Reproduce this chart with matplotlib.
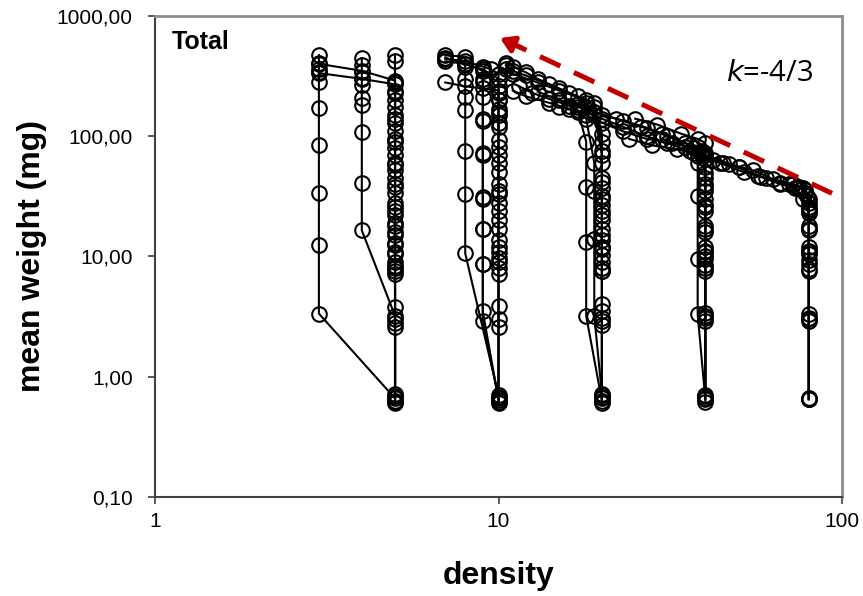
import matplotlib.pyplot as plt
from matplotlib.ticker import NullLocator

plt.rcParams['font.family'] = ['Liberation Sans', 'DejaVu Sans']

# runs started at density 80
r80a_d = [80, 80, 80, 80, 80, 80, 80, 78, 74, 66, 57, 50, 45]
r80a_w = [0.65, 2.9, 7.8, 11.2, 17, 25, 30, 36, 38, 41, 47, 55, 60]
r80b_d = [80, 80, 80, 80, 80, 80, 79, 77, 72, 63, 55, 47, 40, 35, 30]
r80b_w = [0.66, 3.1, 8.6, 11, 16.5, 26, 32, 37, 40, 44, 52, 59, 70, 82, 95]
r80c_d = [80, 80, 80, 80, 80, 80, 80, 78, 75, 70, 60, 52, 44, 38]
r80c_w = [0.65, 3.3, 9.3, 12, 18, 24, 28, 34, 38, 40, 45, 50, 60, 68]
r80d_d = [80, 80, 80, 80, 80, 77, 73, 66, 58, 50, 42, 36, 31, 27, 23, 20]
r80d_w = [0.65, 3.0, 7.6, 10.5, 23, 30, 37, 40, 46, 55, 64, 75, 88, 100, 120, 140]

# runs started at density 40
r40a_d = [40, 40, 40, 40, 40, 40, 40, 40, 39, 35, 30, 26, 22, 19, 17]
r40a_w = [0.62, 3.1, 7.6, 11, 17, 27, 38, 55, 75, 88, 105, 120, 140, 160, 185]
r40b_d = [40, 40, 40, 40, 40, 40, 40, 39, 36, 31, 27, 23, 20, 17, 15, 13]
r40b_w = [0.66, 3.4, 9.6, 11.2, 26, 35, 49, 70, 85, 100, 118, 135, 150, 175, 200, 235]
r40c_d = [40, 38, 38, 38, 38, 37, 33, 28, 24]
r40c_w = [0.65, 3.3, 9.6, 32, 60, 72, 78, 84, 95]
r40d_d = [40, 40, 40, 40, 40, 40, 40, 40, 40, 38, 34, 29, 25]
r40d_w = [0.69, 2.9, 8.5, 12, 18, 30, 45, 65, 88, 95, 105, 125, 140]
r40e_d = [40, 40, 40, 40, 40, 40, 40, 40, 37, 32, 27, 23, 20, 18]
r40e_w = [0.71, 3.2, 8, 10, 16, 24, 40, 72, 80, 88, 95, 110, 130, 150]

# runs started at density 20
r20a_d = [20, 20, 20, 20, 20, 20, 20, 20, 20, 19, 17, 15, 13, 12, 11, 10.5]
r20a_w = [0.60, 3.1, 7.6, 10.2, 13.6, 20, 32, 60, 105, 190, 215, 250, 300, 340, 380, 410]
r20b_d = [20, 20, 20, 20, 20, 20, 20, 20, 19, 16, 14, 12, 11]
r20b_w = [0.66, 2.7, 8, 12, 17, 26.6, 37, 75, 150, 170, 190, 215, 240]
r20c_d = [20, 18, 18, 18, 18, 17, 16, 14, 12.5, 11.5]
r20c_w = [0.63, 3.2, 13.1, 37.6, 90, 165, 180, 205, 230, 260]
r20d_d = [20, 20, 20, 20, 20, 20, 20, 20, 20, 19, 18, 16, 14, 12, 11, 10.5]
r20d_w = [0.70, 2.9, 9, 11.5, 15, 22, 30, 45, 70, 160, 190, 230, 270, 320, 350, 390]
r20e_d = [20, 20, 20, 20, 20, 20, 20, 20, 19, 18, 15, 13, 11, 10.5]
r20e_w = [0.68, 3.5, 4.06, 7.6, 12, 24, 42, 90, 175, 200, 240, 280, 330, 360]
r20f_d = [20, 19, 19, 19, 19, 18, 17, 15]
r20f_w = [0.72, 3.2, 14, 35, 60, 140, 160, 175]

# runs started at density 10
r10a_d = [10, 10, 10, 10, 10, 10, 10, 10, 10, 10, 10, 10, 9.5, 9, 8, 7]
r10a_w = [0.62, 2.6, 7.2, 9.8, 13.6, 24, 40, 81, 150, 200, 260, 330, 360, 380, 420, 440]
r10b_d = [10, 9, 9, 9, 9, 9, 9, 9, 9, 9, 8, 7]
r10b_w = [0.66, 2.9, 8.7, 17, 31, 72, 135, 210, 280, 350, 400, 450]
r10c_d = [10, 8, 8, 8, 8, 8, 8, 8, 8, 7]
r10c_w = [0.70, 10.6, 33, 76, 165, 210, 300, 380, 460, 470]
r10d_d = [10, 10, 10, 10, 10, 10, 10, 10, 10, 10, 10, 10, 10, 9, 8, 7]
r10d_w = [0.60, 3.9, 8, 12, 17, 28, 33, 60, 93, 130, 170, 230, 300, 360, 400, 420]
r10e_d = [10, 10, 10, 10, 10, 10, 10, 10, 10, 10, 10, 10, 9, 8, 7]
r10e_w = [0.68, 3.0, 9, 11, 20, 35, 50, 70, 120, 160, 200, 240, 250, 260, 280]
r10f_d = [10, 9, 9, 9, 9, 9, 9, 9]
r10f_w = [0.64, 3.5, 8.7, 17, 30, 70, 140, 300]

# runs started at density 5
r5a_d = [5, 5, 5, 5, 5, 5, 5, 5, 5, 5, 5, 5, 4, 3]
r5a_w = [0.60, 3.0, 7.6, 11, 15, 22, 34, 52, 80, 130, 200, 290, 350, 400]
r5b_d = [5, 5, 5, 5, 5, 5, 5, 5, 5, 5, 5, 5, 4, 3, 3]
r5b_w = [0.63, 2.8, 8.4, 12.5, 18, 26, 40, 60, 95, 150, 230, 270, 300, 335, 360]
r5c_d = [5, 3, 3, 3, 3, 3, 3, 3, 3, 3]
r5c_w = [0.66, 3.35, 12.4, 34, 84, 171, 282, 341, 406, 473]
r5d_d = [5, 5, 4, 4, 4, 4, 4, 4, 4, 4, 4, 4]
r5d_w = [0.69, 3.2, 16.5, 41, 108, 181, 207, 266, 304, 341, 390, 447]
r5e_d = [5, 5, 5, 5, 5, 5, 5, 5, 5, 5, 5, 5, 5]
r5e_w = [0.72, 2.6, 7.2, 9, 13, 19, 28, 45, 70, 110, 175, 280, 420]
r5f_d = [5, 5, 5, 5, 5, 5, 5, 5, 5, 5, 5, 5]
r5f_w = [0.62, 3.8, 8, 10.5, 16, 24, 38, 58, 90, 140, 240, 470]

runs = [
    (r80a_d, r80a_w), (r80b_d, r80b_w), (r80c_d, r80c_w), (r80d_d, r80d_w),
    (r40a_d, r40a_w), (r40b_d, r40b_w), (r40c_d, r40c_w), (r40d_d, r40d_w), (r40e_d, r40e_w),
    (r20a_d, r20a_w), (r20b_d, r20b_w), (r20c_d, r20c_w), (r20d_d, r20d_w), (r20e_d, r20e_w),
    (r20f_d, r20f_w),
    (r10a_d, r10a_w), (r10b_d, r10b_w), (r10c_d, r10c_w), (r10d_d, r10d_w), (r10e_d, r10e_w),
    (r10f_d, r10f_w),
    (r5a_d, r5a_w), (r5b_d, r5b_w), (r5c_d, r5c_w), (r5d_d, r5d_w), (r5e_d, r5e_w), (r5f_d, r5f_w),
]

# self-thinning reference line, slope -4/3
arrow_tail = (93.5, 33.5)
arrow_head = (10.1, 656)

y_ticks = [0.1, 1, 10, 100, 1000]
y_tick_labels = ['0,10', '1,00', '10,00', '100,00', '1000,00']
x_ticks = [1, 10, 100]
x_tick_labels = ['1', '10', '100']

fig = plt.figure(figsize=(8.63, 5.96), dpi=100)
ax = fig.add_axes([0.1796, 0.1661, 0.7961, 0.8071])

for d, w in runs:
    ax.plot(d, w, '-', color='black', lw=1.5, marker='o', ms=10.5,
            mfc='none', mec='black', mew=1.5)

ax.set_xscale('log')
ax.set_yscale('log')
ax.set_xlim(1, 100)
ax.set_ylim(0.1, 1000)

# dashed red line with arrow head at the upper end
ax.plot([arrow_tail[0], arrow_head[0] * 1.12], [arrow_tail[1], arrow_head[1] / 1.16],
        color='#C00000', lw=3.6, dashes=(4.5, 3), dash_capstyle='butt', zorder=5)
ax.annotate('', xy=arrow_head, xytext=(arrow_head[0] * 1.15, arrow_head[1] / 1.2),
            arrowprops=dict(arrowstyle='-|>,head_length=0.8,head_width=0.5',
                            color='#C00000', lw=3.6, shrinkA=0, shrinkB=0),
            zorder=5)

ax.set_xticks(x_ticks)
ax.set_xticklabels(x_tick_labels)
ax.set_yticks(y_ticks)
ax.set_yticklabels(y_tick_labels)
ax.xaxis.set_minor_locator(NullLocator())
ax.yaxis.set_minor_locator(NullLocator())
ax.tick_params(axis='both', direction='out', length=5, width=1.2, color='#404040',
               labelsize=15)
ax.tick_params(axis='x', pad=5.5)
ax.tick_params(axis='y', pad=11)

for side in ['top', 'right']:
    ax.spines[side].set_color('#8c8c8c')
    ax.spines[side].set_linewidth(2)
for side in ['left', 'bottom']:
    ax.spines[side].set_color('#404040')
    ax.spines[side].set_linewidth(1.5)

ax.set_xlabel('density', fontsize=23, fontweight='bold', labelpad=22)
ax.set_ylabel('mean weight (mg)', fontsize=23, fontweight='bold', labelpad=7)

ax.text(0.025, 0.945, 'Total', transform=ax.transAxes, fontsize=18,
        fontweight='bold', va='center', ha='left')
ax.text(0.831, 0.881, r'$\mathit{k}$=-4/3', transform=ax.transAxes, fontsize=21,
        va='center', ha='left', family=['Open Sans', 'DejaVu Sans'])

fig.savefig('out.png', dpi=100)
